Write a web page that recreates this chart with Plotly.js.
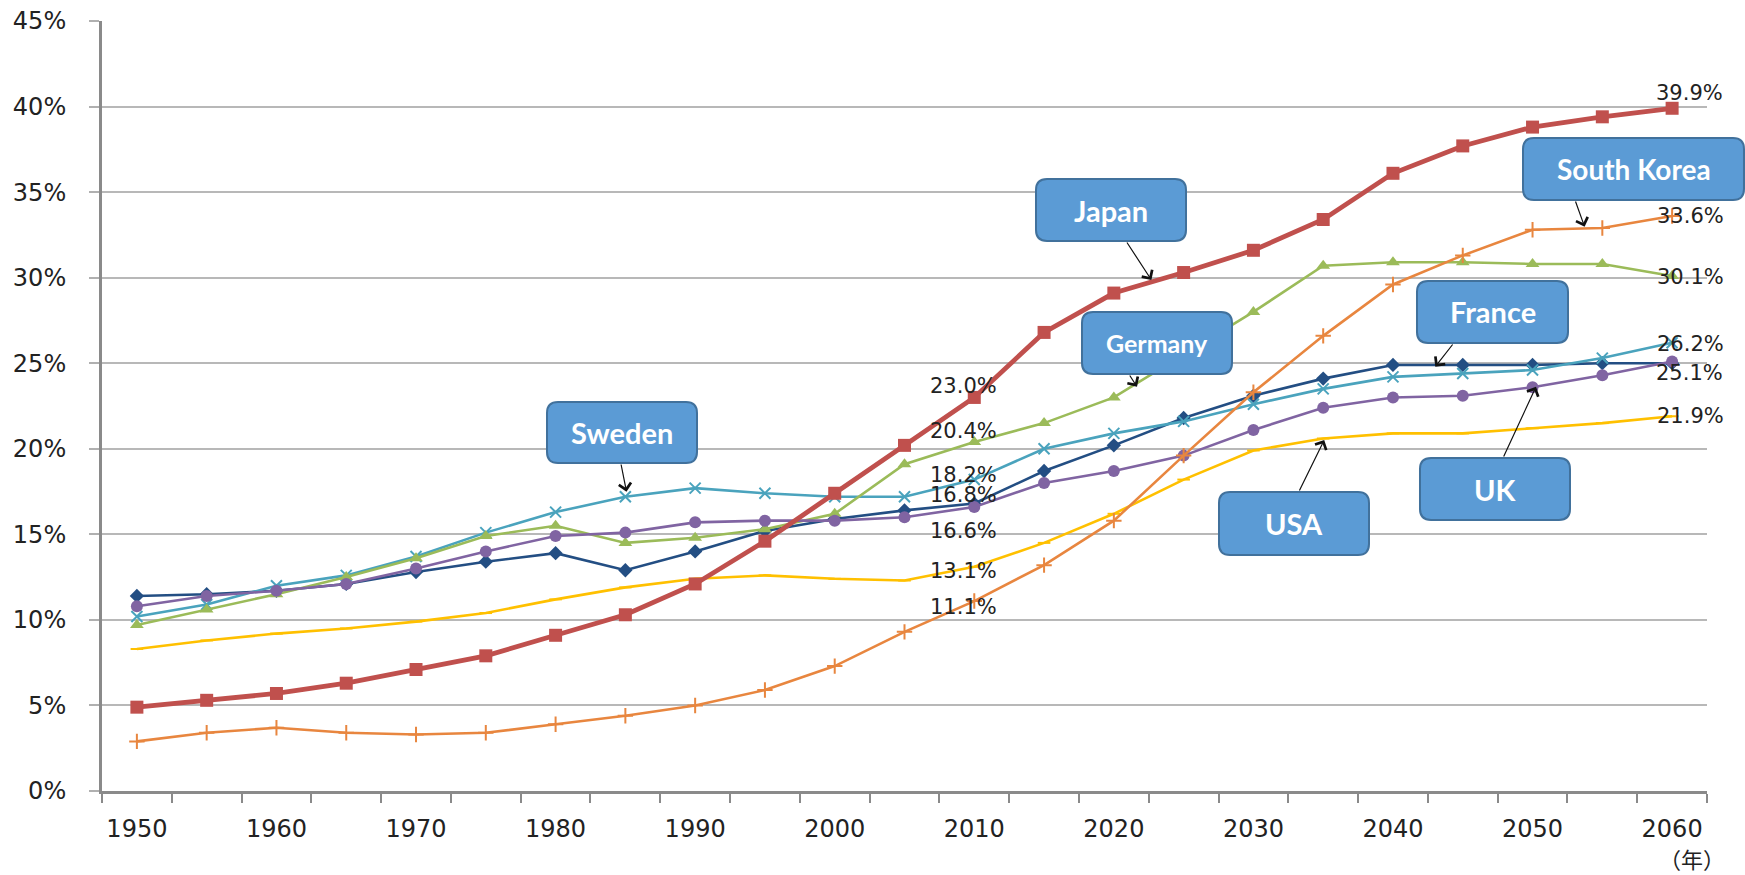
<!DOCTYPE html>
<html><head><meta charset="utf-8">
<script src="https://cdn.plot.ly/plotly-3.0.1.min.js"></script>
<style>html,body{margin:0;padding:0;background:#fff;}#chart{width:1745px;height:875px;}</style>
</head><body><div id="chart"></div>
<script>
// ---- data (percent of population aged 65+) ----
const years = [1950,1955,1960,1965,1970,1975,1980,1985,1990,1995,2000,2005,2010,2015,2020,2025,2030,2035,2040,2045,2050,2055,2060];
const japan   = [4.9,5.3,5.7,6.3,7.1,7.9,9.1,10.3,12.1,14.6,17.4,20.2,23.0,26.8,29.1,30.3,31.6,33.4,36.1,37.7,38.8,39.4,39.9];
const korea   = [2.9,3.4,3.7,3.4,3.3,3.4,3.9,4.4,5.0,5.9,7.3,9.3,11.1,13.2,15.8,19.6,23.3,26.6,29.6,31.3,32.8,32.9,33.6];
const germany = [9.7,10.6,11.5,12.5,13.6,14.9,15.5,14.5,14.8,15.3,16.2,19.1,20.4,21.5,23.0,25.5,28.0,30.7,30.9,30.9,30.8,30.8,30.1];
const sweden  = [10.2,10.9,12.0,12.6,13.7,15.1,16.3,17.2,17.7,17.4,17.2,17.2,18.2,20.0,20.9,21.6,22.6,23.5,24.2,24.4,24.6,25.3,26.2];
const france  = [11.4,11.5,11.7,12.1,12.8,13.4,13.9,12.9,14.0,15.2,15.9,16.4,16.8,18.7,20.2,21.8,23.1,24.1,24.9,24.9,24.9,25.0,25.0];
const uk      = [10.8,11.4,11.7,12.1,13.0,14.0,14.9,15.1,15.7,15.8,15.8,16.0,16.6,18.0,18.7,19.6,21.1,22.4,23.0,23.1,23.6,24.3,25.1];
const usa     = [8.3,8.8,9.2,9.5,9.9,10.4,11.2,11.9,12.4,12.6,12.4,12.3,13.1,14.5,16.2,18.2,19.9,20.6,20.9,20.9,21.2,21.5,21.9];
const yTicks  = [0,5,10,15,20,25,30,35,40,45];
const yTickText = yTicks.map(v => v + '%');
const xTickYears = years.filter((y,i)=>i%2===0);
const calloutNames = ['Sweden','Japan','Germany','South Korea','France','USA','UK'];
const unitLabel = '（年）';

// ---- styles ----
const series = [
  {name:'France', y:france, color:'#234E83', w:2.6, sym:'diamond', size:11},
  {name:'Sweden', y:sweden, color:'#4AA3BD', w:2.6, sym:'x-thin', size:11, open:true},
  {name:'Germany', y:germany, color:'#9BBB59', w:2.6, sym:'triangle-up', size:12},
  {name:'UK', y:uk, color:'#8064A2', w:2.6, sym:'circle', size:12},
  {name:'USA', y:usa, color:'#FFC000', w:2.6, sym:'line-ew', size:9, open:true},
  {name:'South Korea', y:korea, color:'#E8863F', w:2.6, sym:'cross-thin', size:11, open:true},
  {name:'Japan', y:japan, color:'#C0504D', w:4.8, sym:'square', size:13}
];

const L=102, R=1707, T=21, B=791;
const xp = px => (px-L)/(R-L);
const yp = py => (B-py)/(B-T);

const traces = series.map(s => ({
  type:'scatter', mode:'lines+markers', name:s.name, x:years, y:s.y,
  line:{color:s.color, width:s.w},
  marker:{symbol:s.sym, size:s.size, color:s.color, line:{color:s.color, width:s.open?2:0}},
  hoverinfo:'skip', showlegend:false
}));

// data labels: [series, index, xshift, yshift]
const labelSpec = [
  [japan,12,-11,11],[germany,12,-11,11],[sweden,12,-11,5],[france,12,-11,9],[uk,12,-11,-24],[usa,12,-11,-4],[korea,12,-11,-6],
  [japan,22,17,15],[korea,22,18,0],[germany,22,18,-1],[sweden,22,18,-1],[uk,22,17,-11],[usa,22,18,0]
];
const annotations = labelSpec.map(([arr,i,xs,ys]) => ({
  x:years[i], y:arr[i], xref:'x', yref:'y', text:arr[i].toFixed(1)+'%', showarrow:false,
  xshift:xs, yshift:ys, font:{family:'DejaVu Sans', size:21, color:'#222'}
}));

// callouts: box px, head px, tail px, font size
const callouts = [
  {box:[547,402,697,463], head:[626.5,491.7], tail:[620.8,463], fs:29},
  {box:[1036,179,1186,241], head:[1151.4,280], tail:[1126,241], fs:29},
  {box:[1082,312,1232,374], head:[1137,386.7], tail:[1128.8,374], fs:25},
  {box:[1523,138,1744,200], head:[1584.6,226.7], tail:[1575,200], fs:28},
  {box:[1417,281,1568,343], head:[1435.3,366.7], tail:[1453.8,343], fs:29},
  {box:[1219,492,1369,555], head:[1324.2,440], tail:[1298.7,492], fs:29},
  {box:[1420,458,1570,520], head:[1536,386.7], tail:[1503,458], fs:29}
];
function rr(x0,y0,x1,y1,r){
  const P=(x,y)=>xp(x).toFixed(5)+','+yp(y).toFixed(5);
  return 'M'+P(x0+r,y0)+' L'+P(x1-r,y0)+' Q'+P(x1,y0)+' '+P(x1,y0+r)+' L'+P(x1,y1-r)+' Q'+P(x1,y1)+' '+P(x1-r,y1)+
    ' L'+P(x0+r,y1)+' Q'+P(x0,y1)+' '+P(x0,y1-r)+' L'+P(x0,y0+r)+' Q'+P(x0,y0)+' '+P(x0+r,y0)+' Z';
}
const shapes = callouts.map(c => ({
  type:'path', xref:'paper', yref:'paper', layer:'above',
  path:rr(c.box[0],c.box[1],c.box[2],c.box[3],11),
  fillcolor:'#5B9BD5', line:{color:'#41719C', width:2}
}));
callouts.forEach((c,k) => {
  annotations.push({
    xref:'paper', yref:'paper', x:xp(c.head[0]), y:yp(c.head[1]), text:'', showarrow:true,
    ax:c.tail[0]-c.head[0], ay:c.tail[1]-c.head[1], arrowhead:4, arrowsize:2, arrowwidth:1.2, arrowcolor:'#111', standoff:0
  });
  annotations.push({
    xref:'paper', yref:'paper', x:xp((c.box[0]+c.box[2])/2), y:yp((c.box[1]+c.box[3])/2),
    xanchor:'center', yanchor:'middle', text:'<b>'+calloutNames[k]+'</b>', showarrow:false,
    font:{family:'Lato', size:c.fs, color:'#fff'}
  });
});
annotations.push({xref:'paper', yref:'paper', x:xp(1692), y:yp(858), text:unitLabel, showarrow:false,
  xanchor:'center', yanchor:'middle', borderpad:0, font:{family:'"Noto Sans CJK JP"', size:22, color:'#222'}});

const layout = {
  width:1745, height:875, margin:{l:L, r:1745-R, t:T, b:875-B},
  paper_bgcolor:'#fff', plot_bgcolor:'#fff', showlegend:false,
  xaxis:{range:[1947.5,2062.5], tickvals:xTickYears, ticks:'outside', ticklen:14, tickcolor:'rgba(0,0,0,0)',
    showgrid:false, zeroline:false, showline:true, linecolor:'#8a8a8a', linewidth:3,
    tickfont:{family:'DejaVu Sans', size:24, color:'#222'},
    minor:{tick0:1947.5, dtick:5, ticks:'outside', ticklen:9, tickcolor:'#8a8a8a', tickwidth:2, showgrid:false}},
  yaxis:{range:[0,45], tickvals:yTicks, ticktext:yTickText, ticks:'outside', ticklen:10, tickcolor:'#b0b0b0', tickwidth:2,
    showgrid:true, gridcolor:'#b8b8b8', gridwidth:2, zeroline:false, showline:true, linecolor:'#8a8a8a', linewidth:3,
    ticklabelstandoff:18, tickfont:{family:'DejaVu Sans', size:24, color:'#222'}},
  shapes:shapes, annotations:annotations
};
Plotly.newPlot('chart', traces, layout, {displayModeBar:false, staticPlot:true});
</script>
</body></html>
